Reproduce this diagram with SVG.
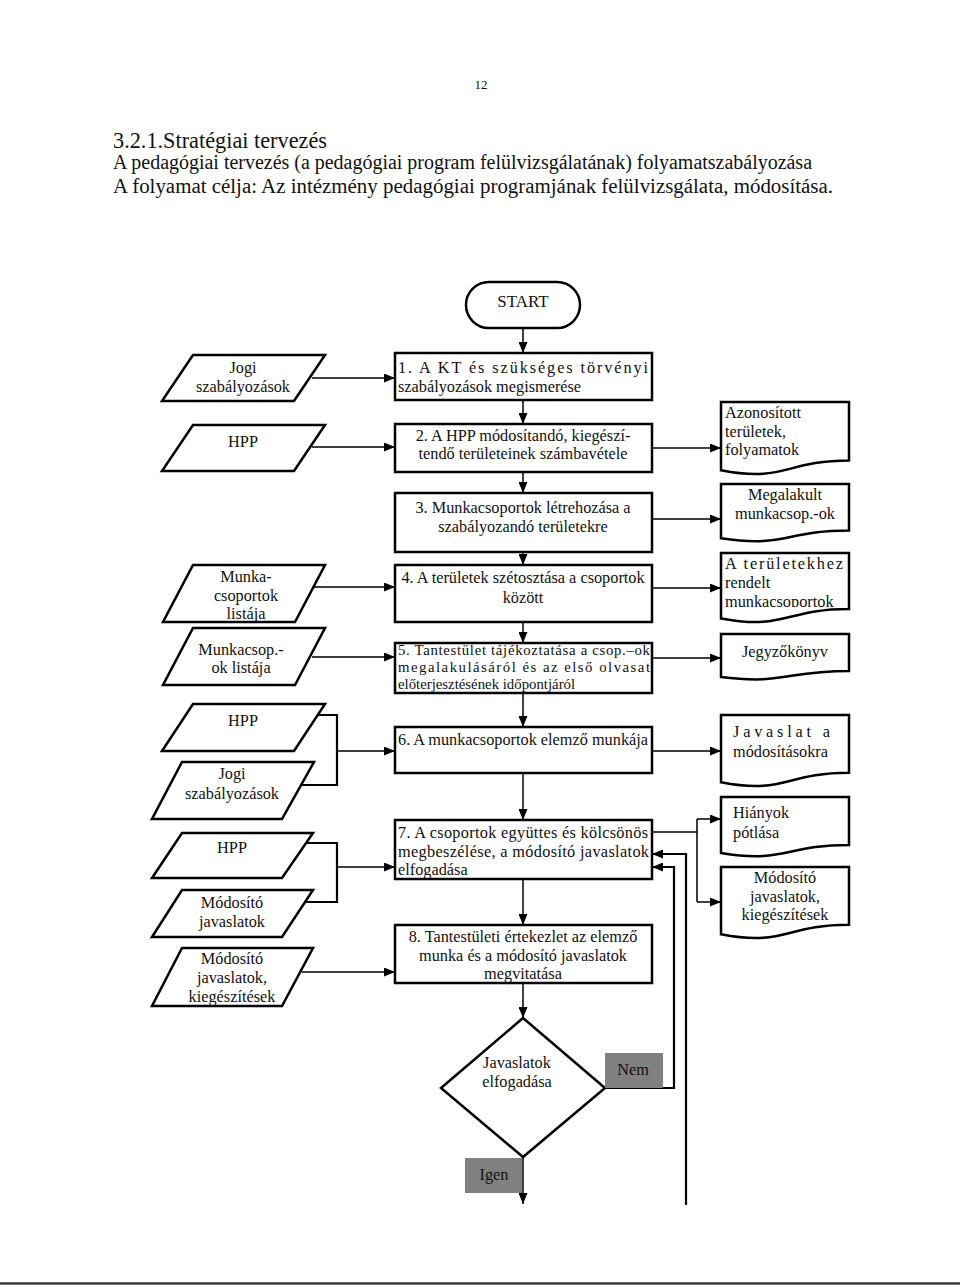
<svg xmlns="http://www.w3.org/2000/svg" width="960" height="1285" viewBox="0 0 960 1285">
<style>
.t{font-family:"Liberation Serif","Times New Roman",serif;font-size:16.3px;fill:#111}
.c{text-anchor:middle}
.s{font-size:14.8px}
.box{fill:#fff;stroke:#000;stroke-width:2.5}
.conn{stroke:#000;stroke-width:1.5;fill:none}
.fb{stroke:#000;stroke-width:2.2;fill:none}
.lbl{fill:#808080}
</style>
<defs>
<marker id="ah" markerUnits="userSpaceOnUse" markerWidth="11" markerHeight="9" refX="11" refY="4.5" orient="auto">
<path d="M0,0 L11,4.5 L0,9 z" fill="#000"/>
</marker>
<clipPath id="d3clip"><rect x="721" y="553" width="128" height="54"/></clipPath>
</defs>
<rect width="960" height="1285" fill="#fff"/>

<g id="header">
<text class="t c" x="481" y="89" style="font-size:13px">12</text>
<text class="t" x="113" y="148" style="font-size:24px" textLength="214" lengthAdjust="spacingAndGlyphs">3.2.1.Stratégiai tervezés</text>
<text class="t" x="113" y="169" style="font-size:20px" textLength="699" lengthAdjust="spacingAndGlyphs">A pedagógiai tervezés (a pedagógiai program felülvizsgálatának) folyamatszabályozása</text>
<text class="t" x="113" y="193" style="font-size:20px" textLength="720" lengthAdjust="spacingAndGlyphs">A folyamat célja: Az intézmény pedagógiai programjának felülvizsgálata, módosítása.</text>
</g>

<g id="connectors">
<line class="conn" x1="523" y1="328" x2="523" y2="353" marker-end="url(#ah)"/>
<line class="conn" x1="523" y1="400" x2="523" y2="424" marker-end="url(#ah)"/>
<line class="conn" x1="523" y1="472" x2="523" y2="493" marker-end="url(#ah)"/>
<line class="conn" x1="523" y1="552" x2="523" y2="565" marker-end="url(#ah)"/>
<line class="conn" x1="523" y1="622" x2="523" y2="643" marker-end="url(#ah)"/>
<line class="conn" x1="523" y1="693" x2="523" y2="727" marker-end="url(#ah)"/>
<line class="conn" x1="523" y1="773" x2="523" y2="820" marker-end="url(#ah)"/>
<line class="conn" x1="523" y1="879" x2="523" y2="925" marker-end="url(#ah)"/>
<line class="conn" x1="523" y1="983" x2="523" y2="1018" marker-end="url(#ah)"/>
<line class="conn" x1="523" y1="1157" x2="523" y2="1204" marker-end="url(#ah)"/>
<line class="conn" x1="312" y1="378" x2="395" y2="378" marker-end="url(#ah)"/>
<line class="conn" x1="312" y1="447" x2="395" y2="447" marker-end="url(#ah)"/>
<line class="conn" x1="312" y1="587" x2="395" y2="587" marker-end="url(#ah)"/>
<line class="conn" x1="312" y1="657" x2="395" y2="657" marker-end="url(#ah)"/>
<path class="fb" d="M313,715 H337 V785 H300"/>
<line class="conn" x1="337" y1="751" x2="395" y2="751" marker-end="url(#ah)"/>
<path class="fb" d="M302,843 H337 V902 H302"/>
<line class="conn" x1="337" y1="867" x2="395" y2="867" marker-end="url(#ah)"/>
<line class="conn" x1="302" y1="972" x2="395" y2="972" marker-end="url(#ah)"/>
<line class="conn" x1="652" y1="448" x2="721" y2="448" marker-end="url(#ah)"/>
<line class="conn" x1="652" y1="519" x2="721" y2="519" marker-end="url(#ah)"/>
<line class="conn" x1="652" y1="588" x2="721" y2="588" marker-end="url(#ah)"/>
<line class="conn" x1="652" y1="658" x2="721" y2="658" marker-end="url(#ah)"/>
<line class="conn" x1="652" y1="751" x2="721" y2="751" marker-end="url(#ah)"/>
<path class="conn" d="M652,832 H697 M697,819 V902"/>
<line class="conn" x1="697" y1="819" x2="721" y2="819" marker-end="url(#ah)"/>
<line class="conn" x1="697" y1="902" x2="721" y2="902" marker-end="url(#ah)"/>
<path class="fb" d="M605,1088 H674 V867 H652" marker-end="url(#ah)"/>
<path class="fb" d="M686,1205 V854 H652" marker-end="url(#ah)"/>
</g>

<g id="start">
<rect class="box" x="466" y="282" width="114" height="46" rx="23"/>
<text class="t c" x="523" y="307" style="font-size:17px">START</text>
</g>

<g id="p1">
<rect class="box" x="395" y="353" width="257" height="47"/>
<text class="t" x="398" y="373" textLength="250" lengthAdjust="spacing">1. A KT és szükséges törvényi</text>
<text class="t" x="398" y="392">szabályozások megismerése</text>
</g>
<g id="p2">
<rect class="box" x="395" y="424" width="257" height="48"/>
<text class="t c" x="523" y="441">2. A HPP módosítandó, kiegészí-</text>
<text class="t c" x="523" y="459">tendő területeinek számbavétele</text>
</g>
<g id="p3">
<rect class="box" x="395" y="493" width="257" height="59"/>
<text class="t c" x="523" y="513">3. Munkacsoportok létrehozása a</text>
<text class="t c" x="523" y="532">szabályozandó területekre</text>
</g>
<g id="p4">
<rect class="box" x="395" y="565" width="257" height="57"/>
<text class="t c" x="523" y="583">4. A területek szétosztása a csoportok</text>
<text class="t c" x="523" y="603">között</text>
</g>
<g id="p5">
<rect class="box" x="395" y="643" width="257" height="50"/>
<text class="t s" x="398" y="655" textLength="252" lengthAdjust="spacing">5. Tantestület tájékoztatása a csop.–ok</text>
<text class="t s" x="398" y="672" textLength="252" lengthAdjust="spacing">megalakulásáról és az első olvasat</text>
<text class="t s" x="398" y="689">előterjesztésének időpontjáról</text>
</g>
<g id="p6">
<rect class="box" x="395" y="727" width="257" height="46"/>
<text class="t" x="398" y="745" textLength="250" lengthAdjust="spacing">6. A munkacsoportok elemző munkája</text>
</g>
<g id="p7">
<rect class="box" x="395" y="820" width="257" height="59"/>
<text class="t" x="398" y="838" textLength="250" lengthAdjust="spacing">7. A csoportok együttes és kölcsönös</text>
<text class="t" x="398" y="857" textLength="251" lengthAdjust="spacing">megbeszélése, a módosító javaslatok</text>
<text class="t" x="398" y="875">elfogadása</text>
</g>
<g id="p8">
<rect class="box" x="395" y="925" width="257" height="58"/>
<text class="t c" x="523" y="942">8. Tantestületi értekezlet az elemző</text>
<text class="t c" x="523" y="961">munka és a módosító javaslatok</text>
<text class="t c" x="523" y="979">megvitatása</text>
</g>

<g id="decision">
<path class="box" d="M523,1018 L605,1088 L523,1157 L441,1088 Z"/>
<text class="t c" x="517" y="1068">Javaslatok</text>
<text class="t c" x="517" y="1087">elfogadása</text>
</g>
<g id="nem">
<rect class="lbl" x="605" y="1053" width="58" height="35"/>
<text class="t c" x="633" y="1075">Nem</text>
</g>
<g id="igen">
<rect class="lbl" x="465" y="1158" width="57" height="35"/>
<text class="t c" x="494" y="1180">Igen</text>
</g>

<g id="in1">
<path class="box" d="M193,355 H325 L294,401 H162 Z"/>
<text class="t c" x="243" y="373">Jogi</text>
<text class="t c" x="243" y="392">szabályozások</text>
</g>
<g id="in2">
<path class="box" d="M193,425 H325 L294,471 H162 Z"/>
<text class="t c" x="243" y="447">HPP</text>
</g>
<g id="in3">
<path class="box" d="M193,565 H325 L295,622 H163 Z"/>
<text class="t c" x="246" y="582">Munka-</text>
<text class="t c" x="246" y="601">csoportok</text>
<text class="t c" x="246" y="619">listája</text>
</g>
<g id="in4">
<path class="box" d="M193,628 H325 L295,685 H163 Z"/>
<text class="t c" x="241" y="655">Munkacsop.-</text>
<text class="t c" x="241" y="673">ok listája</text>
</g>
<g id="in5">
<path class="box" d="M193,704 H325 L294,751 H162 Z"/>
<text class="t c" x="243" y="726">HPP</text>
</g>
<g id="in6">
<path class="box" d="M182,762 H314 L282,819 H152 Z"/>
<text class="t c" x="232" y="779">Jogi</text>
<text class="t c" x="232" y="799">szabályozások</text>
</g>
<g id="in7">
<path class="box" d="M182,833 H313 L282,878 H152 Z"/>
<text class="t c" x="232" y="853">HPP</text>
</g>
<g id="in8">
<path class="box" d="M182,890 H313 L282,937 H152 Z"/>
<text class="t c" x="232" y="908">Módosító</text>
<text class="t c" x="232" y="927">javaslatok</text>
</g>
<g id="in9">
<path class="box" d="M182,948 H313 L282,1006 H152 Z"/>
<text class="t c" x="232" y="964">Módosító</text>
<text class="t c" x="232" y="983">javaslatok,</text>
<text class="t c" x="232" y="1002">kiegészítések</text>
</g>

<g id="d1">
<path class="box" d="M721,402 H849 V460.5 C785,460.5 785,482.8 721,470.2 Z"/>
<text class="t" x="725" y="418">Azonosított</text>
<text class="t" x="725" y="437">területek,</text>
<text class="t" x="725" y="455">folyamatok</text>
</g>
<g id="d2">
<path class="box" d="M721,484 H849 V530.5 C785,530.5 785,548.2 721,538.2 Z"/>
<text class="t c" x="785" y="500">Megalakult</text>
<text class="t c" x="785" y="519">munkacsop.-ok</text>
</g>
<g id="d3">
<path class="box" d="M721,553 H849 V609 C785,609 785,630.5 721,618.4 Z"/>
<text class="t" x="725" y="569" textLength="118" lengthAdjust="spacing">A területekhez</text>
<text class="t" x="725" y="588">rendelt</text>
<text class="t" x="725" y="607" clip-path="url(#d3clip)">munkacsoportok</text>
</g>
<g id="d4">
<path class="box" d="M721,634 H849 V670.9 C785,670.9 785,684.9 721,677 Z"/>
<text class="t c" x="785" y="657">Jegyzőkönyv</text>
</g>
<g id="d5">
<path class="box" d="M721,715 H849 V772.7 C785,772.7 785,794.7 721,782.2 Z"/>
<text class="t" x="733" y="737" textLength="97" lengthAdjust="spacing">Javaslat a</text>
<text class="t" x="733" y="757">módosításokra</text>
</g>
<g id="d6">
<path class="box" d="M721,797 H849 V845 C785,845 785,863.5 721,853 Z"/>
<text class="t" x="733" y="818">Hiányok</text>
<text class="t" x="733" y="838">pótlása</text>
</g>
<g id="d7">
<path class="box" d="M721,867 H849 V924.7 C785,924.7 785,946.7 721,934.2 Z"/>
<text class="t c" x="785" y="883">Módosító</text>
<text class="t c" x="785" y="902">javaslatok,</text>
<text class="t c" x="785" y="920">kiegészítések</text>
</g>

<line x1="0" y1="1283.5" x2="960" y2="1283.5" stroke="#3a3a3a" stroke-width="2.5"/>
</svg>
